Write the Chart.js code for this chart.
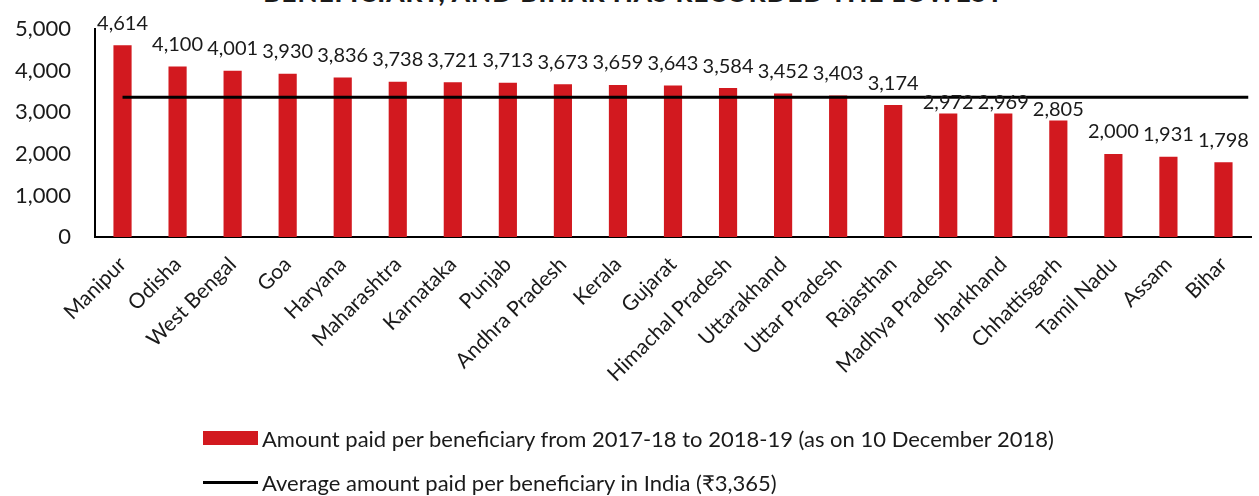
<!DOCTYPE html>
<html>
<head>
<meta charset="utf-8">
<script src="https://cdn.jsdelivr.net/npm/chart.js@4.4.1/dist/chart.umd.min.js"></script>
<style>
  body { margin: 0; background: #fff; }
  #wrap { position: relative; width: 1259px; height: 496px; overflow: hidden; font-family: Lato, sans-serif; color: #1a1a1a; }
  #title { position: absolute; top: -24px; left: 0; width: 1267px; text-align: center; font: 900 26px Lato, sans-serif; letter-spacing: 1px; }
  #chartBox { position: absolute; left: 0; top: 0; }
  #legend { position: absolute; left: 203px; top: 416px; }
  .item { display: flex; align-items: center; height: 44px; font-size: 22px; white-space: nowrap; }
  .swatch { width: 55px; margin-right: 4px; }
</style>
</head>
<body>
<div id="wrap">
  <div id="title">BENEFICIARY, AND BIHAR HAS RECORDED THE LOWEST</div>
  <div id="chartBox"><canvas id="benefitChart" width="1259" height="420"></canvas></div>
  <div id="legend"></div>
</div>
<script>
// states, sorted by amount paid per beneficiary (Rs)
const states = ["Manipur", "Odisha", "West Bengal", "Goa", "Haryana", "Maharashtra", "Karnataka",
  "Punjab", "Andhra Pradesh", "Kerala", "Gujarat", "Himachal Pradesh", "Uttarakhand", "Uttar Pradesh",
  "Rajasthan", "Madhya Pradesh", "Jharkhand", "Chhattisgarh", "Tamil Nadu", "Assam", "Bihar"];
const amounts = [4614, 4100, 4001, 3930, 3836, 3738, 3721, 3713, 3673, 3659, 3643, 3584, 3452, 3403,
  3174, 2972, 2969, 2805, 2000, 1931, 1798];
const indiaAverage = 3365;
const yTicks = [0, 1000, 2000, 3000, 4000, 5000];

const barLabel = "Amount paid per beneficiary from 2017-18 to 2018-19 (as on 10 December 2018)";
const lineLabel = "Average amount paid per beneficiary in India (₹3,365)";

const RED = '#d2191f';
const fmt = v => v.toLocaleString('en-US');

// value labels above each bar (kept off the average line)
const barValueLabels = {
  id: 'barValueLabels',
  afterDatasetsDraw(chart) {
    const ctx = chart.ctx;
    const y = chart.scales.y;
    const lineY = y.getPixelForValue(indiaAverage);
    const meta = chart.getDatasetMeta(0);
    ctx.save();
    ctx.font = '20px Lato, sans-serif';
    ctx.fillStyle = '#1a1a1a';
    ctx.textAlign = 'center';
    ctx.textBaseline = 'middle';
    meta.data.forEach((bar, i) => {
      let cy = bar.y - 22;
      if (Math.abs(cy - lineY) < 12) cy = bar.y - 11;
      ctx.fillText(fmt(amounts[i]), bar.x, cy);
    });
    ctx.restore();
  }
};

const chart = new Chart(document.getElementById('benefitChart').getContext('2d'), {
  data: {
    labels: states,
    datasets: [
      {
        type: 'bar',
        label: barLabel,
        data: amounts,
        backgroundColor: RED,
        grouped: false,
        barPercentage: 0.33,
        categoryPercentage: 1,
        order: 2
      },
      {
        type: 'line',
        label: lineLabel,
        data: [{ x: 0, y: indiaAverage }, { x: states.length - 0.55, y: indiaAverage }],
        xAxisID: 'xLine',
        borderColor: '#000',
        borderWidth: 3,
        pointRadius: 0,
        order: 1
      }
    ]
  },
  options: {
    responsive: false,
    animation: false,
    layout: { padding: { top: 21, right: 8, left: 0, bottom: 0 } },
    plugins: {
      legend: { display: false },
      tooltip: { enabled: false }
    },
    scales: {
      x: {
        type: 'category',
        offset: true,
        grid: { display: false },
        border: { color: '#000', width: 2 },
        ticks: {
          minRotation: 45,
          maxRotation: 45,
          padding: 7,
          color: '#1a1a1a',
          font: { family: 'Lato, sans-serif', size: 21 }
        },
        afterFit(scale) { scale.height = 420 - 237; }
      },
      xLine: {
        type: 'linear',
        display: false,
        min: -0.5,
        max: states.length - 0.5
      },
      y: {
        min: yTicks[0],
        max: yTicks[yTicks.length - 1],
        grid: { display: false },
        border: { color: '#000', width: 2 },
        afterBuildTicks(scale) { scale.ticks = yTicks.map(v => ({ value: v })); },
        ticks: {
          padding: 16,
          color: '#1a1a1a',
          font: { family: 'Lato, sans-serif', size: 22 },
          callback: v => fmt(v)
        },
        afterFit(scale) { scale.width = 95; }
      }
    }
  },
  plugins: [barValueLabels]
});

// legend built from the chart's datasets
const legend = document.getElementById('legend');
chart.data.datasets.forEach(ds => {
  const item = document.createElement('div');
  item.className = 'item';
  const sw = document.createElement('div');
  sw.className = 'swatch';
  if (ds.type === 'bar') {
    sw.style.height = '14px';
    sw.style.background = ds.backgroundColor;
  } else {
    sw.style.height = ds.borderWidth + 'px';
    sw.style.background = ds.borderColor;
  }
  const txt = document.createElement('span');
  txt.textContent = ds.label;
  item.appendChild(sw);
  item.appendChild(txt);
  legend.appendChild(item);
});
</script>
</body>
</html>
